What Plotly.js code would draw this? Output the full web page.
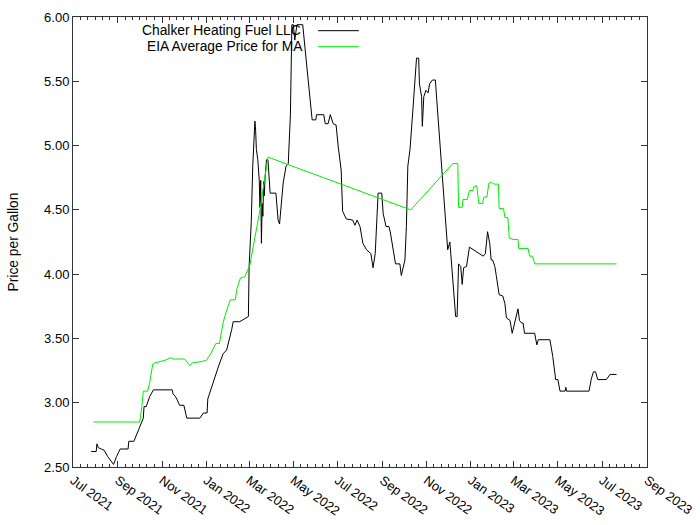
<!DOCTYPE html>
<html>
<head>
<meta charset="utf-8">
<script src="https://cdn.plot.ly/plotly-3.0.1.min.js"></script>
<style>html,body{margin:0;padding:0;background:#fff;}#chart{width:700px;height:525px;}</style>
</head>
<body>
<div id="chart"></div>
<script>
// Chalker Heating Fuel LLC price series
const chalkerDates = [
'2021-07-26','2021-08-02','2021-08-03','2021-08-05','2021-08-09','2021-08-13','2021-08-18','2021-08-26','2021-08-30','2021-09-04',
'2021-09-15','2021-09-16','2021-09-23','2021-09-27','2021-10-01','2021-10-06','2021-10-07','2021-10-10','2021-10-15','2021-10-20',
'2021-11-15','2021-11-16','2021-11-19','2021-11-22','2021-11-25','2021-12-01','2021-12-05','2021-12-23','2021-12-28','2022-01-02',
'2022-01-03','2022-01-17','2022-01-24','2022-01-29','2022-02-02','2022-02-05','2022-02-07','2022-02-16','2022-02-28','2022-03-01',
'2022-03-04','2022-03-06','2022-03-09','2022-03-10','2022-03-11','2022-03-13','2022-03-15','2022-03-16','2022-03-17','2022-03-18',
'2022-03-19','2022-03-20','2022-03-21','2022-03-22','2022-03-23','2022-03-25','2022-03-27','2022-03-28','2022-03-30','2022-04-07',
'2022-04-10','2022-04-12','2022-04-15','2022-04-17','2022-04-21','2022-04-24','2022-04-27','2022-04-28','2022-04-29','2022-05-01',
'2022-05-03','2022-05-06','2022-05-14','2022-05-19','2022-05-23','2022-05-27','2022-06-01','2022-06-02','2022-06-12','2022-06-14',
'2022-06-18','2022-06-21','2022-06-25','2022-06-29','2022-07-02','2022-07-06','2022-07-08','2022-07-13','2022-07-22','2022-07-25',
'2022-07-28','2022-08-01','2022-08-05','2022-08-10','2022-08-16','2022-08-19','2022-08-22','2022-08-25','2022-08-26','2022-08-31',
'2022-09-02','2022-09-06','2022-09-10','2022-09-12','2022-09-16','2022-09-19','2022-09-25','2022-09-27','2022-10-02','2022-10-04',
'2022-10-06','2022-10-09','2022-10-13','2022-10-18','2022-10-21','2022-10-22','2022-10-25','2022-10-26','2022-10-28','2022-10-31',
'2022-11-03','2022-11-05','2022-11-09','2022-11-13','2022-11-15','2022-11-19','2022-11-23','2022-11-26','2022-11-29','2022-11-30',
'2022-12-03','2022-12-07','2022-12-11','2022-12-13','2022-12-15','2022-12-18','2022-12-20','2022-12-22','2022-12-26','2022-12-30',
'2023-01-18','2023-01-21','2023-01-24','2023-01-27','2023-01-29','2023-01-31','2023-02-03','2023-02-05','2023-02-09','2023-02-14',
'2023-02-17','2023-02-19','2023-02-24','2023-02-27','2023-03-02','2023-03-05','2023-03-07','2023-03-09','2023-03-12','2023-03-14',
'2023-03-16','2023-03-30','2023-04-02','2023-04-04','2023-04-20','2023-04-24','2023-04-28','2023-05-01','2023-05-04','2023-05-11',
'2023-05-12','2023-05-13','2023-06-13','2023-06-16','2023-06-19','2023-06-22','2023-06-25','2023-07-07','2023-07-12','2023-07-21'
];
const chalkerPrices = [
2.62,2.62,2.68,2.65,2.64,2.63,2.58,2.52,2.58,2.64,
2.64,2.70,2.70,2.75,2.81,2.88,2.97,2.97,3.05,3.10,
3.10,3.07,3.05,3.02,2.98,2.98,2.88,2.88,2.92,2.92,
3.03,3.27,3.38,3.41,3.49,3.57,3.63,3.63,3.67,4.06,
4.41,4.84,5.19,5.12,4.97,4.89,4.73,4.52,4.73,4.24,
4.55,4.45,4.72,4.61,4.75,4.89,4.89,4.76,4.63,4.63,
4.42,4.39,4.58,4.71,4.84,4.86,5.24,5.70,5.94,5.94,
5.82,5.94,5.94,5.65,5.45,5.20,5.20,5.24,5.24,5.17,
5.17,5.24,5.17,5.16,4.99,4.81,4.49,4.43,4.42,4.38,
4.42,4.37,4.24,4.19,4.16,4.05,4.16,4.52,4.63,4.63,
4.47,4.37,4.37,4.32,4.16,4.08,4.08,3.99,4.11,4.37,
4.84,4.97,5.28,5.68,5.68,5.48,5.38,5.15,5.38,5.43,
5.41,5.48,5.51,5.51,5.35,5.04,4.78,4.52,4.29,4.19,
4.25,3.93,3.67,3.67,4.08,4.06,3.92,4.05,4.06,4.21,
4.14,4.16,4.33,4.24,4.11,4.11,4.06,3.99,3.84,3.83,
3.77,3.66,3.64,3.54,3.62,3.70,3.73,3.64,3.62,3.62,
3.54,3.54,3.45,3.49,3.49,3.36,3.18,3.18,3.09,3.09,
3.12,3.09,3.09,3.18,3.24,3.24,3.18,3.18,3.22,3.22
];

// EIA average price for MA
const eiaDates = [
'2021-07-29','2021-10-01','2021-10-04','2021-10-06','2021-10-12','2021-10-15','2021-10-19','2021-10-22','2021-11-05','2021-11-13',
'2021-11-16','2021-12-02','2021-12-09','2021-12-13','2021-12-25','2022-01-01','2022-01-07','2022-01-10','2022-01-14','2022-01-19',
'2022-01-24','2022-01-28','2022-02-03','2022-02-10','2022-02-12','2022-02-17','2022-02-23','2022-03-02','2022-03-16','2022-03-27',
'2022-10-10','2022-12-07','2022-12-14','2022-12-15','2022-12-20','2022-12-21','2022-12-27','2022-12-30','2023-01-04','2023-01-05',
'2023-01-09','2023-01-12','2023-01-17','2023-01-19','2023-01-23','2023-01-26','2023-01-31','2023-02-02','2023-02-08','2023-02-09',
'2023-02-15','2023-02-17','2023-02-21','2023-02-23','2023-02-28','2023-03-07','2023-03-08','2023-03-21','2023-03-23','2023-03-27',
'2023-03-30','2023-07-21'
];
const eiaPrices = [
2.85,2.85,2.97,3.09,3.09,3.16,3.30,3.31,3.33,3.35,
3.34,3.34,3.29,3.31,3.32,3.33,3.38,3.42,3.46,3.46,
3.62,3.70,3.80,3.80,3.88,3.97,3.98,4.07,4.50,4.91,
4.50,4.86,4.86,4.52,4.52,4.58,4.58,4.65,4.65,4.68,
4.69,4.55,4.55,4.60,4.60,4.71,4.71,4.70,4.70,4.51,
4.51,4.44,4.44,4.28,4.27,4.27,4.20,4.20,4.14,4.14,
4.08,4.08
];

const seriesNames = ['Chalker Heating Fuel LLC', 'EIA Average Price for MA'];
const seriesColors = ['#000000', '#00ee00'];
const yTitle = 'Price per Gallon';

// minor ticks: 5 between each 2-month major tick
const minorVals = [];
for (let m = 0; m < 26; m += 2) {
  const a = new Date(Date.UTC(2021, 6 + m, 1));
  const b = new Date(Date.UTC(2021, 8 + m, 1));
  for (let k = 1; k < 6; k++) {
    const t = new Date(a.getTime() + (b.getTime() - a.getTime()) * k / 6);
    minorVals.push(t.toISOString().slice(0, 10));
  }
}

const font = {family: 'Liberation Sans, Arial, sans-serif', size: 13, color: '#000'};
const bigFont = {family: 'Liberation Sans, Arial, sans-serif', size: 13.8, color: '#000'};

const traces = [
  {x: chalkerDates, y: chalkerPrices, type: 'scatter', mode: 'lines', name: seriesNames[0],
   line: {color: seriesColors[0], width: 1}, showlegend: false},
  {x: eiaDates, y: eiaPrices, type: 'scatter', mode: 'lines', name: seriesNames[1],
   line: {color: seriesColors[1], width: 1}, showlegend: false}
];

const layout = {
  width: 700, height: 525,
  margin: {l: 73, r: 53, t: 17, b: 58},
  paper_bgcolor: '#fff', plot_bgcolor: '#fff',
  font: font,
  showlegend: false,
  xaxis: {
    type: 'date', range: ['2021-07-01', '2023-09-01'],
    tick0: '2021-07-01', dtick: 'M2', tickformat: '%b %Y',
    tickangle: 36, ticks: 'inside', ticklen: 6, tickcolor: '#333',
    showline: true, linecolor: '#333', linewidth: 1, mirror: 'allticks',
    showgrid: false, zeroline: false, tickfont: font,
    minor: {tickmode: 'array', tickvals: minorVals, ticks: 'inside', ticklen: 3, tickcolor: '#333', showgrid: false}
  },
  yaxis: {
    range: [2.5, 6.0], tick0: 2.5, dtick: 0.5, tickformat: '.2f',
    ticks: 'inside', ticklen: 6, tickcolor: '#333',
    showline: true, linecolor: '#333', linewidth: 1, mirror: 'allticks',
    showgrid: false, zeroline: false, tickfont: font,
    title: {text: yTitle, font: bigFont, standoff: 22}
  },
  annotations: [
    {xref: 'paper', yref: 'paper', x: 0.400, y: 0.9696, xanchor: 'right', yanchor: 'middle',
     text: seriesNames[0], showarrow: false, font: bigFont},
    {xref: 'paper', yref: 'paper', x: 0.404, y: 0.934, xanchor: 'right', yanchor: 'middle',
     text: seriesNames[1], showarrow: false, font: bigFont}
  ],
  shapes: [
    {type: 'line', xref: 'paper', yref: 'paper', x0: 0.427, x1: 0.498, y0: 0.9696, y1: 0.9696,
     line: {color: seriesColors[0], width: 1}},
    {type: 'line', xref: 'paper', yref: 'paper', x0: 0.427, x1: 0.498, y0: 0.934, y1: 0.934,
     line: {color: seriesColors[1], width: 1}}
  ]
};

Plotly.newPlot('chart', traces, layout, {staticPlot: true, displayModeBar: false});
</script>
</body>
</html>
